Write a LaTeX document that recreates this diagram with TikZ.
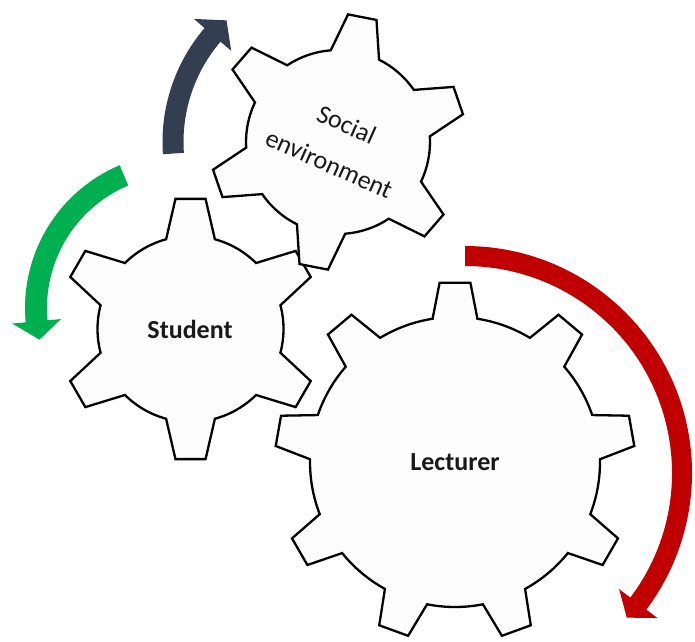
\documentclass[tikz,border=0pt]{standalone}
\usepackage{fontspec}
\setmainfont{Carlito}
\definecolor{navyarr}{HTML}{333F50}
\definecolor{greenarr}{HTML}{00B050}
\definecolor{redarr}{HTML}{C00000}
\definecolor{gearfill}{HTML}{FDFDFD}
\tikzset{
  gearline/.style={draw=black, fill=gearfill, line width=2.3pt, line join=miter},
  geartext/.style={font=\fontsize{26}{43}\selectfont, text=black!90, align=center, inner sep=0pt},
  boldtext/.style={geartext, font=\fontsize{26}{43}\selectfont\bfseries}
}
% cx cy n phase Rbody Rout betatip betabase
\newcommand{\geardraw}[8]{%
  \begin{scope}[shift={(#1,-#2)}]
    \pgfmathsetmacro{\gstep}{360/#3}
    \draw[gearline] ({#4-#8}:#5) \foreach \k in {1,...,#3}{
      -- ({#4+(\k-1)*\gstep-#7}:#6) -- ({#4+(\k-1)*\gstep+#7}:#6)
      -- ({#4+(\k-1)*\gstep+#8}:#5)
      arc[start angle={#4+(\k-1)*\gstep+#8}, end angle={#4+\k*\gstep-#8}, radius=#5]
    } -- cycle;
  \end{scope}}
% color cx cy r halfwidth startangle headangle headhalfwidth tipangle
\newcommand{\bentarrow}[9]{%
  \fill[#1, shift={(#2,-#3)}] ({#6}:{#4+#5})
    arc[start angle={#6}, end angle={#7}, radius={#4+#5}]
    -- ({#7}:{#4+#8}) -- ({#9}:{#4}) -- ({#7}:{#4-#8}) -- ({#7}:{#4-#5})
    arc[start angle={#7}, end angle={#6}, radius={#4-#5}] -- cycle;}
\begin{document}
\begin{tikzpicture}[x=1pt, y=1pt]
  \useasboundingbox (0,0) rectangle (695,-641);
  \fill[white] (0,0) rectangle (695,-641);
  % arrows
  \bentarrow{navyarr}{338}{142}{165}{10.5}{184}{139.5}{24.5}{132.5}
  \bentarrow{greenarr}{180}{308}{144}{11}{112.9}{185.3}{24.5}{192.7}
  \bentarrow{redarr}{465}{473}{217}{10}{90}{-37}{24}{-41.8}
  % gears
  \geardraw{190.5}{329}{6}{90}{93}{131}{6.6}{15.2}
  \geardraw{338}{142}{6}{79}{92}{128}{6.5}{15.5}
  \geardraw{455}{462}{9}{90}{145}{180}{4.9}{8.9}
  % labels
  \node[geartext, rotate=-24] (social) at (338,-144) {Social\\environment};
  \node[boldtext] (student) at (190,-329) {Student};
  \node[boldtext] (lecturer) at (455,-462.5) {Lecturer};
\end{tikzpicture}
\end{document}
